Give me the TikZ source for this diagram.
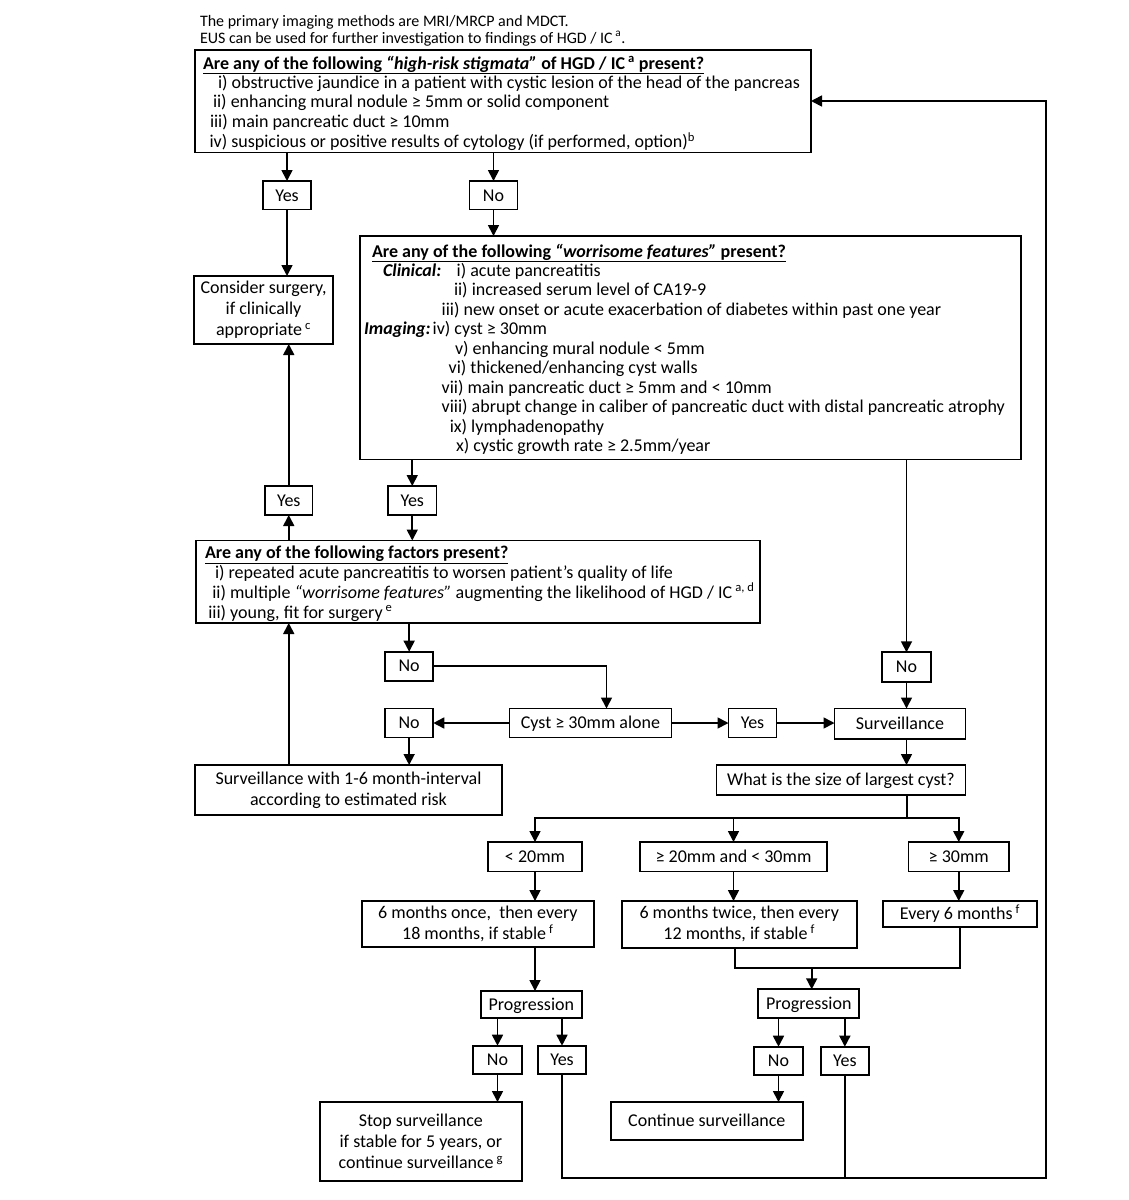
\documentclass[tikz,border=0pt]{standalone}
\usepackage{fontspec}
\setmainfont{Carlito}
\usetikzlibrary{arrows.meta}
\newcommand\fs{\fontsize{18}{21}\selectfont}
\newcommand\fsmall{\fontsize{16}{19}\selectfont}
\newcommand\mkbox[6][]{\node[box,minimum width={(#4-#2)*1pt},minimum height={(#5-#3)*1pt},#1] (#6) at ({(#2+#4)/2},{(#3+#5)/2})}
\tikzset{
  box/.style={draw, line width=1.7pt, inner sep=0pt, outer sep=0pt, font=\fs, align=center},
  one/.style={text height=13.5pt, text depth=2pt},
  txt/.style={inner sep=0pt, outer sep=0pt, anchor=base west, font=\fs},
  arr/.style={line width=1.7pt, line cap=rect, -{Triangle[length=11pt,width=11pt]}},
  ln/.style={line width=1.7pt, line cap=rect},
}
\begin{document}
\begin{tikzpicture}[x=1pt,y=-1pt]
\useasboundingbox[fill=white] (0,0) rectangle (1128,1200);
% header
\node[txt,font=\fsmall] (h1) at (200,26) {The primary imaging methods are MRI/MRCP and MDCT.};
\node[txt,font=\fsmall] (h2) at (200,43) {EUS can be used for further investigation to findings of HGD / IC\,\textsuperscript{a}.};
% high-risk box
\mkbox{195}{50}{811}{152.5}{B1} {};
\node[txt] (b1t) at (203,69) {\underline{\textbf{Are any of the following \textit{“high-risk stigmata”} of HGD / IC\,\textsuperscript{a} present?}}};
\node[txt] (b1a) at (218,88.5) {i) obstructive jaundice in a patient with cystic lesion of the head of the pancreas};
\node[txt] (b1b) at (213,107.5) {ii) enhancing mural nodule ≥ 5mm or solid component};
\node[txt] (b1c) at (210,127.5) {iii) main pancreatic duct ≥ 10mm};
\node[txt] (b1d) at (209.6,147.5) {iv) suspicious or positive results of cytology (if performed, option)\textsuperscript{b}};
\mkbox[one]{263}{181}{311}{209.5}{Y1} {Yes};
\mkbox[one]{469.5}{181}{517.5}{209.5}{N1} {No};
\mkbox{194}{276}{333}{344}{CS} {Consider surgery,\\ if clinically\\ appropriate\,\textsuperscript{c}};
% worrisome box
\mkbox{360}{236}{1021}{459.5}{W} {};
\node[txt] (w0) at (372,257) {\underline{\textbf{Are any of the following \textit{“worrisome features”} present?}}};
\node[txt] (wc) at (383,276) {\textbf{\textit{Clinical:}}};
\node[txt] (w1) at (456.7,276) {i) acute pancreatitis};
\node[txt] (w2) at (454,295.5) {ii) increased serum level of CA19-9};
\node[txt] (w3) at (441.7,315) {iii) new onset or acute exacerbation of diabetes within past one year};
\node[txt] (w4) at (364,334.5) {\textbf{\textit{Imaging:}}\kern2pt iv) cyst ≥ 30mm};
\node[txt] (w5) at (455,354) {v) enhancing mural nodule < 5mm};
\node[txt] (w6) at (448.7,373.5) {vi) thickened/enhancing cyst walls};
\node[txt] (w7) at (441.7,393) {vii) main pancreatic duct ≥ 5mm and < 10mm};
\node[txt] (w8) at (441.7,412.5) {viii) abrupt change in caliber of pancreatic duct with distal pancreatic atrophy};
\node[txt] (w9) at (449.8,432) {ix) lymphadenopathy};
\node[txt] (w10) at (456,451.5) {x) cystic growth rate ≥ 2.5mm/year};
\mkbox[one]{265}{486}{312.5}{515}{YL} {Yes};
\mkbox[one]{388}{486}{436.5}{515}{YR} {Yes};
% factors box
\mkbox{196}{540.5}{760}{623}{F} {};
\node[txt] (f0) at (205,558.5) {\underline{\textbf{Are any of the following factors present?}}};
\node[txt] (f1) at (215,578.2) {i) repeated acute pancreatitis to worsen patient’s quality of life};
\node[txt] (f2) at (212.3,598.2) {ii) multiple \textit{“worrisome features”} augmenting the likelihood of HGD / IC\,\textsuperscript{a, d}};
\node[txt] (f3) at (208.3,618.2) {iii) young, fit for surgery\,\textsuperscript{e}};
\mkbox[one]{385}{651.7}{433.3}{680.7}{NF} {No};
\mkbox[one]{882.3}{652.3}{930.7}{681.7}{NR} {No};
\mkbox[one]{509.5}{708.5}{671.5}{737.5}{Cy} {Cyst ≥ 30mm alone};
\mkbox[one]{385}{708.5}{433.3}{737.5}{NC} {No};
\mkbox[one]{728.5}{708.5}{776.5}{737.5}{YC} {Yes};
\mkbox[one]{834.5}{708.5}{965.5}{739}{Sv} {Surveillance};
\mkbox{195}{765}{502}{815}{S16} {Surveillance with 1-6 month-interval\\ according to estimated risk};
\mkbox[one]{716.5}{765}{965.5}{795}{Sz} {What is the size of largest cyst?};
\mkbox[one]{488}{842}{582}{871.5}{L20} {< 20mm};
\mkbox[one]{640}{842}{827}{871.5}{M20} {≥ 20mm and < 30mm};
\mkbox[one]{908.5}{842}{1009}{871.5}{G30} {≥ 30mm};
\mkbox{361.7}{901}{594}{947}{So} {6 months once,\ \ then every\\ 18 months, if stable\,\textsuperscript{f}};
\mkbox{621.7}{901}{856.7}{947.7}{Tw} {6 months twice, then every\\ 12 months, if stable\,\textsuperscript{f}};
\mkbox[one]{882.7}{901}{1037.3}{926.7}{E6} {Every 6 months\,\textsuperscript{f}};
\mkbox[one]{481}{991}{581.7}{1018.3}{P1} {Progression};
\mkbox[one]{758.3}{989.3}{859.3}{1017.7}{P2} {Progression};
\mkbox[one]{473.3}{1045.7}{521.7}{1074.3}{NP} {No};
\mkbox[one]{538.3}{1045.7}{585.7}{1074.3}{YP} {Yes};
\mkbox[one]{754.3}{1046.7}{802.7}{1075}{N2} {No};
\mkbox[one]{820.7}{1046.7}{869}{1075}{Y2} {Yes};
\mkbox{320}{1102}{521.7}{1181}{St} {Stop surveillance\\ if stable for 5 years, or\\ continue surveillance\,\textsuperscript{g}};
\mkbox[one]{611}{1102}{802.7}{1140}{Co} {Continue surveillance};
% connectors
\draw[arr] (B1.south -| Y1) -- (Y1);
\draw[arr] (B1.south -| N1) -- (N1);
\draw[arr] (Y1) -- (CS.north -| Y1);
\draw[arr] (N1) -- (W.north -| N1);
\draw[arr] (W.south -| YR) -- (YR);
\draw[arr] (YR) -- (F.north -| YR);
\draw[arr] (F.north -| YL) -- (YL);
\draw[arr] (YL) -- (CS.south -| YL);
\draw[arr] (F.south -| NF) -- (NF);
\draw[arr] (W.south -| NR) -- (NR);
\draw[arr] (NF) -| ([xshift=16pt]Cy.north);
\draw[arr] (Cy) -- (NC);
\draw[arr] (Cy) -- (YC);
\draw[arr] (YC) -- (Sv.west |- YC);
\draw[arr] (NR) -- (Sv.north -| NR);
\draw[arr] (NC) -- (S16.north -| NC);
\draw[arr] (S16.north -| YL) -- (F.south -| YL);
\draw[arr] (Sv.south -| NR) -- (Sz.north -| NR);
\coordinate (sp) at (907,818);
\draw[ln] (Sz.south -| sp) -- (sp);
\draw[ln] (sp -| L20) -- (sp -| G30);
\draw[arr] (sp -| L20) -- (L20);
\draw[arr] (sp -| M20) -- (M20);
\draw[arr] (sp -| G30) -- (G30);
\draw[arr] (L20) -- (So.north -| L20);
\draw[arr] (M20) -- (Tw.north -| M20);
\draw[arr] (G30) -- (E6.north -| G30);
\draw[arr] (So.south -| L20) -- (P1.north -| L20);
\coordinate (jn) at (811.7,967.7);
\draw[ln] ([xshift=-4pt]Tw.south) |- (E6.south |- jn) -- (E6.south);
\draw[arr] (jn) -- (P2.north -| jn);
\draw[arr] (P1.south -| NP) -- (NP);
\draw[arr] (P1.south -| YP) -- (YP);
\draw[arr] (P2.south -| N2) -- (N2);
\draw[arr] (P2.south -| Y2) -- (Y2);
\draw[arr] (NP) -- (St.north -| NP);
\draw[arr] (N2) -- (Co.north -| N2);
\coordinate (rb) at (1046,1177.7);
\coordinate (rt) at (1046,101);
\draw[arr] (YP) |- (rb) -- (rt) -- (rt -| B1.east);
\draw[ln] (Y2) -- (Y2 |- rb);
\end{tikzpicture}
\end{document}
